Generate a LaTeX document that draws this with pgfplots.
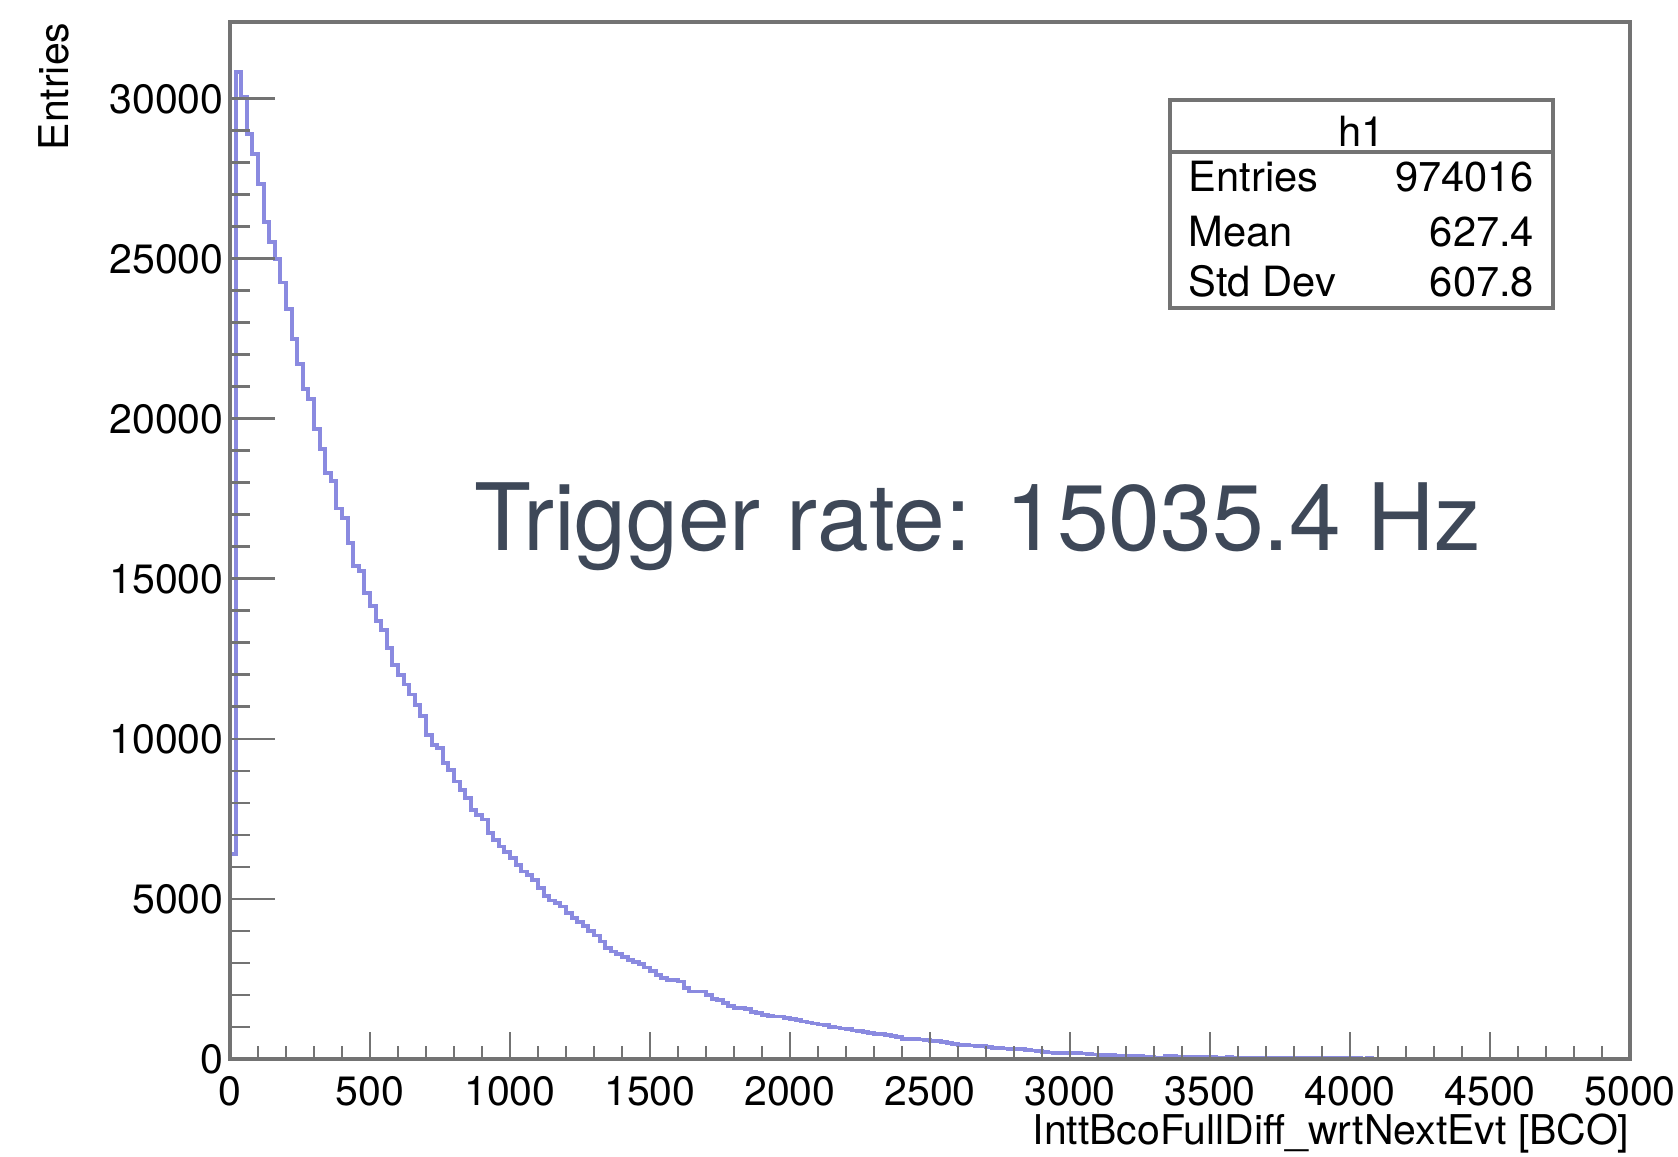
\documentclass[border=0pt]{standalone}
\usepackage{pgfplots}
\pgfplotsset{compat=1.18}
\usepackage{fontspec}
\setmainfont{TeX Gyre Heros}
\definecolor{framegray}{RGB}{115,115,115}
\definecolor{histblue}{RGB}{138,138,224}
\definecolor{trig}{RGB}{62,72,88}
\newcommand{\lblfont}{\fontsize{12.3}{14}\selectfont}
\newcommand{\statfont}{\fontsize{12.5}{14}\selectfont}
\begin{document}
\begin{tikzpicture}
\begin{axis}[
  scale only axis, width=420pt, height=311.1pt,
  xmin=0, xmax=5000, ymin=0, ymax=32400,
  axis on top,
  axis line style={framegray, line width=0.95pt},
  xtick={0,500,...,5000}, ytick={0,5000,...,30000},
  minor x tick num=4, minor y tick num=4,
  tick pos=left, tick align=inside,
  every tick/.style={framegray, line width=0.85pt},
  every major x tick/.append style={/pgfplots/major tick length=8.1pt},
  every minor x tick/.append style={/pgfplots/minor tick length=3.9pt},
  every major y tick/.append style={/pgfplots/major tick length=13.5pt},
  every minor y tick/.append style={/pgfplots/minor tick length=6pt},
  scaled ticks=false,
  /pgf/number format/assume math mode=true,
  /pgf/number format/set thousands separator={},
  tick label style={font=\lblfont, text=black},
  xticklabel style={inner xsep=0pt, yshift=-1.8pt},
  yticklabel style={xshift=1.6pt},
  xlabel={InttBcoFullDiff\_wrtNextEvt [BCO]},
  ylabel={Entries},
  label style={font=\lblfont},
  xlabel style={at={([yshift=-25.6pt]rel axis cs:1,0)}, anchor=base east, inner sep=0pt},
  ylabel style={at={([xshift=-48pt]rel axis cs:0,1)}, anchor=south east, inner sep=0pt},
]
\addplot[const plot, histblue, line width=1.15pt] coordinates {
(0,6400) (20,30830) (40,30050) (60,28900) (80,28280) (100,27340) (120,26140) (140,25515)
(160,24990) (180,24260) (200,23430) (220,22490) (240,21710) (260,20930) (280,20610)
(300,19680) (320,19050) (340,18320) (360,18050) (380,17200) (400,16910) (420,16130)
(440,15400) (460,15240) (480,14570) (500,14150) (520,13680) (540,13410) (560,12850)
(580,12320) (600,12010) (620,11700) (640,11390) (660,11070) (680,10710) (700,10130)
(720,9820) (740,9720) (760,9250) (780,9040) (800,8670) (820,8410) (840,8150) (860,7790)
(880,7630) (900,7480) (920,7060) (940,6850) (960,6640) (980,6480) (1000,6280) (1020,6070)
(1040,5860) (1060,5760) (1080,5600) (1100,5340) (1120,5080) (1140,4950) (1160,4870)
(1180,4765) (1200,4560) (1220,4400) (1240,4290) (1260,4150) (1280,4010) (1300,3860)
(1320,3670) (1340,3460) (1360,3360) (1380,3285) (1400,3180) (1420,3100) (1440,3020)
(1460,2960) (1480,2860) (1500,2760) (1520,2630) (1540,2520) (1560,2470) (1580,2470)
(1600,2420) (1620,2210) (1640,2110) (1660,2110) (1680,2110) (1700,2000) (1720,1880)
(1740,1850) (1760,1760) (1780,1660) (1800,1585) (1820,1585) (1840,1550) (1860,1480)
(1880,1430) (1900,1380) (1920,1355) (1940,1325) (1960,1325) (1980,1270) (2000,1240)
(2020,1210) (2040,1170) (2060,1140) (2080,1110) (2100,1075) (2120,1050) (2140,1010)
(2160,985) (2180,950) (2200,925) (2220,890) (2240,870) (2260,840) (2280,815) (2300,790)
(2320,770) (2340,745) (2360,720) (2380,680) (2400,620) (2420,615) (2440,612) (2460,610)
(2480,590) (2500,565) (2520,560) (2540,520) (2560,490) (2580,470) (2600,440) (2620,430)
(2640,420) (2660,410) (2680,395) (2700,385) (2720,340) (2740,335) (2760,330) (2780,325)
(2800,320) (2820,315) (2840,290) (2860,265) (2880,250) (2900,215) (2920,205) (2940,200)
(2960,200) (2980,195) (3000,190) (3020,185) (3040,172) (3060,165) (3080,140) (3100,125)
(3120,115) (3140,112) (3160,110) (3180,105) (3200,100) (3220,95) (3240,90) (3260,60)
(3280,50) (3300,45) (3320,48) (3340,85) (3360,95) (3380,80) (3400,70) (3420,55)
(3440,60) (3460,55) (3480,50) (3500,62) (3520,48) (3540,45) (3560,52) (3580,40)
(3600,44) (3620,38) (3640,42) (3660,35) (3680,40) (3700,33) (3720,36) (3740,30)
(3760,34) (3780,28) (3800,32) (3820,26) (3840,30) (3860,25) (3880,28) (3900,22)
(3920,26) (3940,20) (3960,24) (3980,18) (4000,22) (4020,20) (4040,16) (4060,18)
(4080,15) (4100,14) (4120,12) (4140,0) (5000,0)
};
% statistics box
\draw[framegray, line width=0.95pt, fill=white] (rel axis cs:0.6714,0.7242) rectangle (rel axis cs:0.945,0.9248);
\draw[framegray, line width=0.95pt] (rel axis cs:0.6714,0.8746) -- (rel axis cs:0.945,0.8746);
\node[anchor=base, inner sep=0pt, font=\statfont] at (rel axis cs:0.8080,0.8795) {h1};
\node[anchor=base west, inner sep=0pt, font=\statfont] at (rel axis cs:0.6843,0.8361) {Entries};
\node[anchor=base east, inner sep=0pt, font=\statfont] at (rel axis cs:0.9320,0.8361) {974016};
\node[anchor=base west, inner sep=0pt, font=\statfont] at (rel axis cs:0.6843,0.7830) {Mean};
\node[anchor=base east, inner sep=0pt, font=\statfont] at (rel axis cs:0.9320,0.7830) {627.4};
\node[anchor=base west, inner sep=0pt, font=\statfont] at (rel axis cs:0.6843,0.7348) {Std Dev};
\node[anchor=base east, inner sep=0pt, font=\statfont] at (rel axis cs:0.9320,0.7348) {607.8};
\node[anchor=base west, inner sep=0pt, text=trig, font=\fontsize{27.9}{32}\selectfont] at (rel axis cs:0.1743,0.4899) {Trigger rate: 15035.4 Hz};
\end{axis}
\path ([shift={(-69pt,-29.4pt)}]current axis.south west) rectangle ([shift={(14.4pt,6.6pt)}]current axis.north east);
\end{tikzpicture}
\end{document}
